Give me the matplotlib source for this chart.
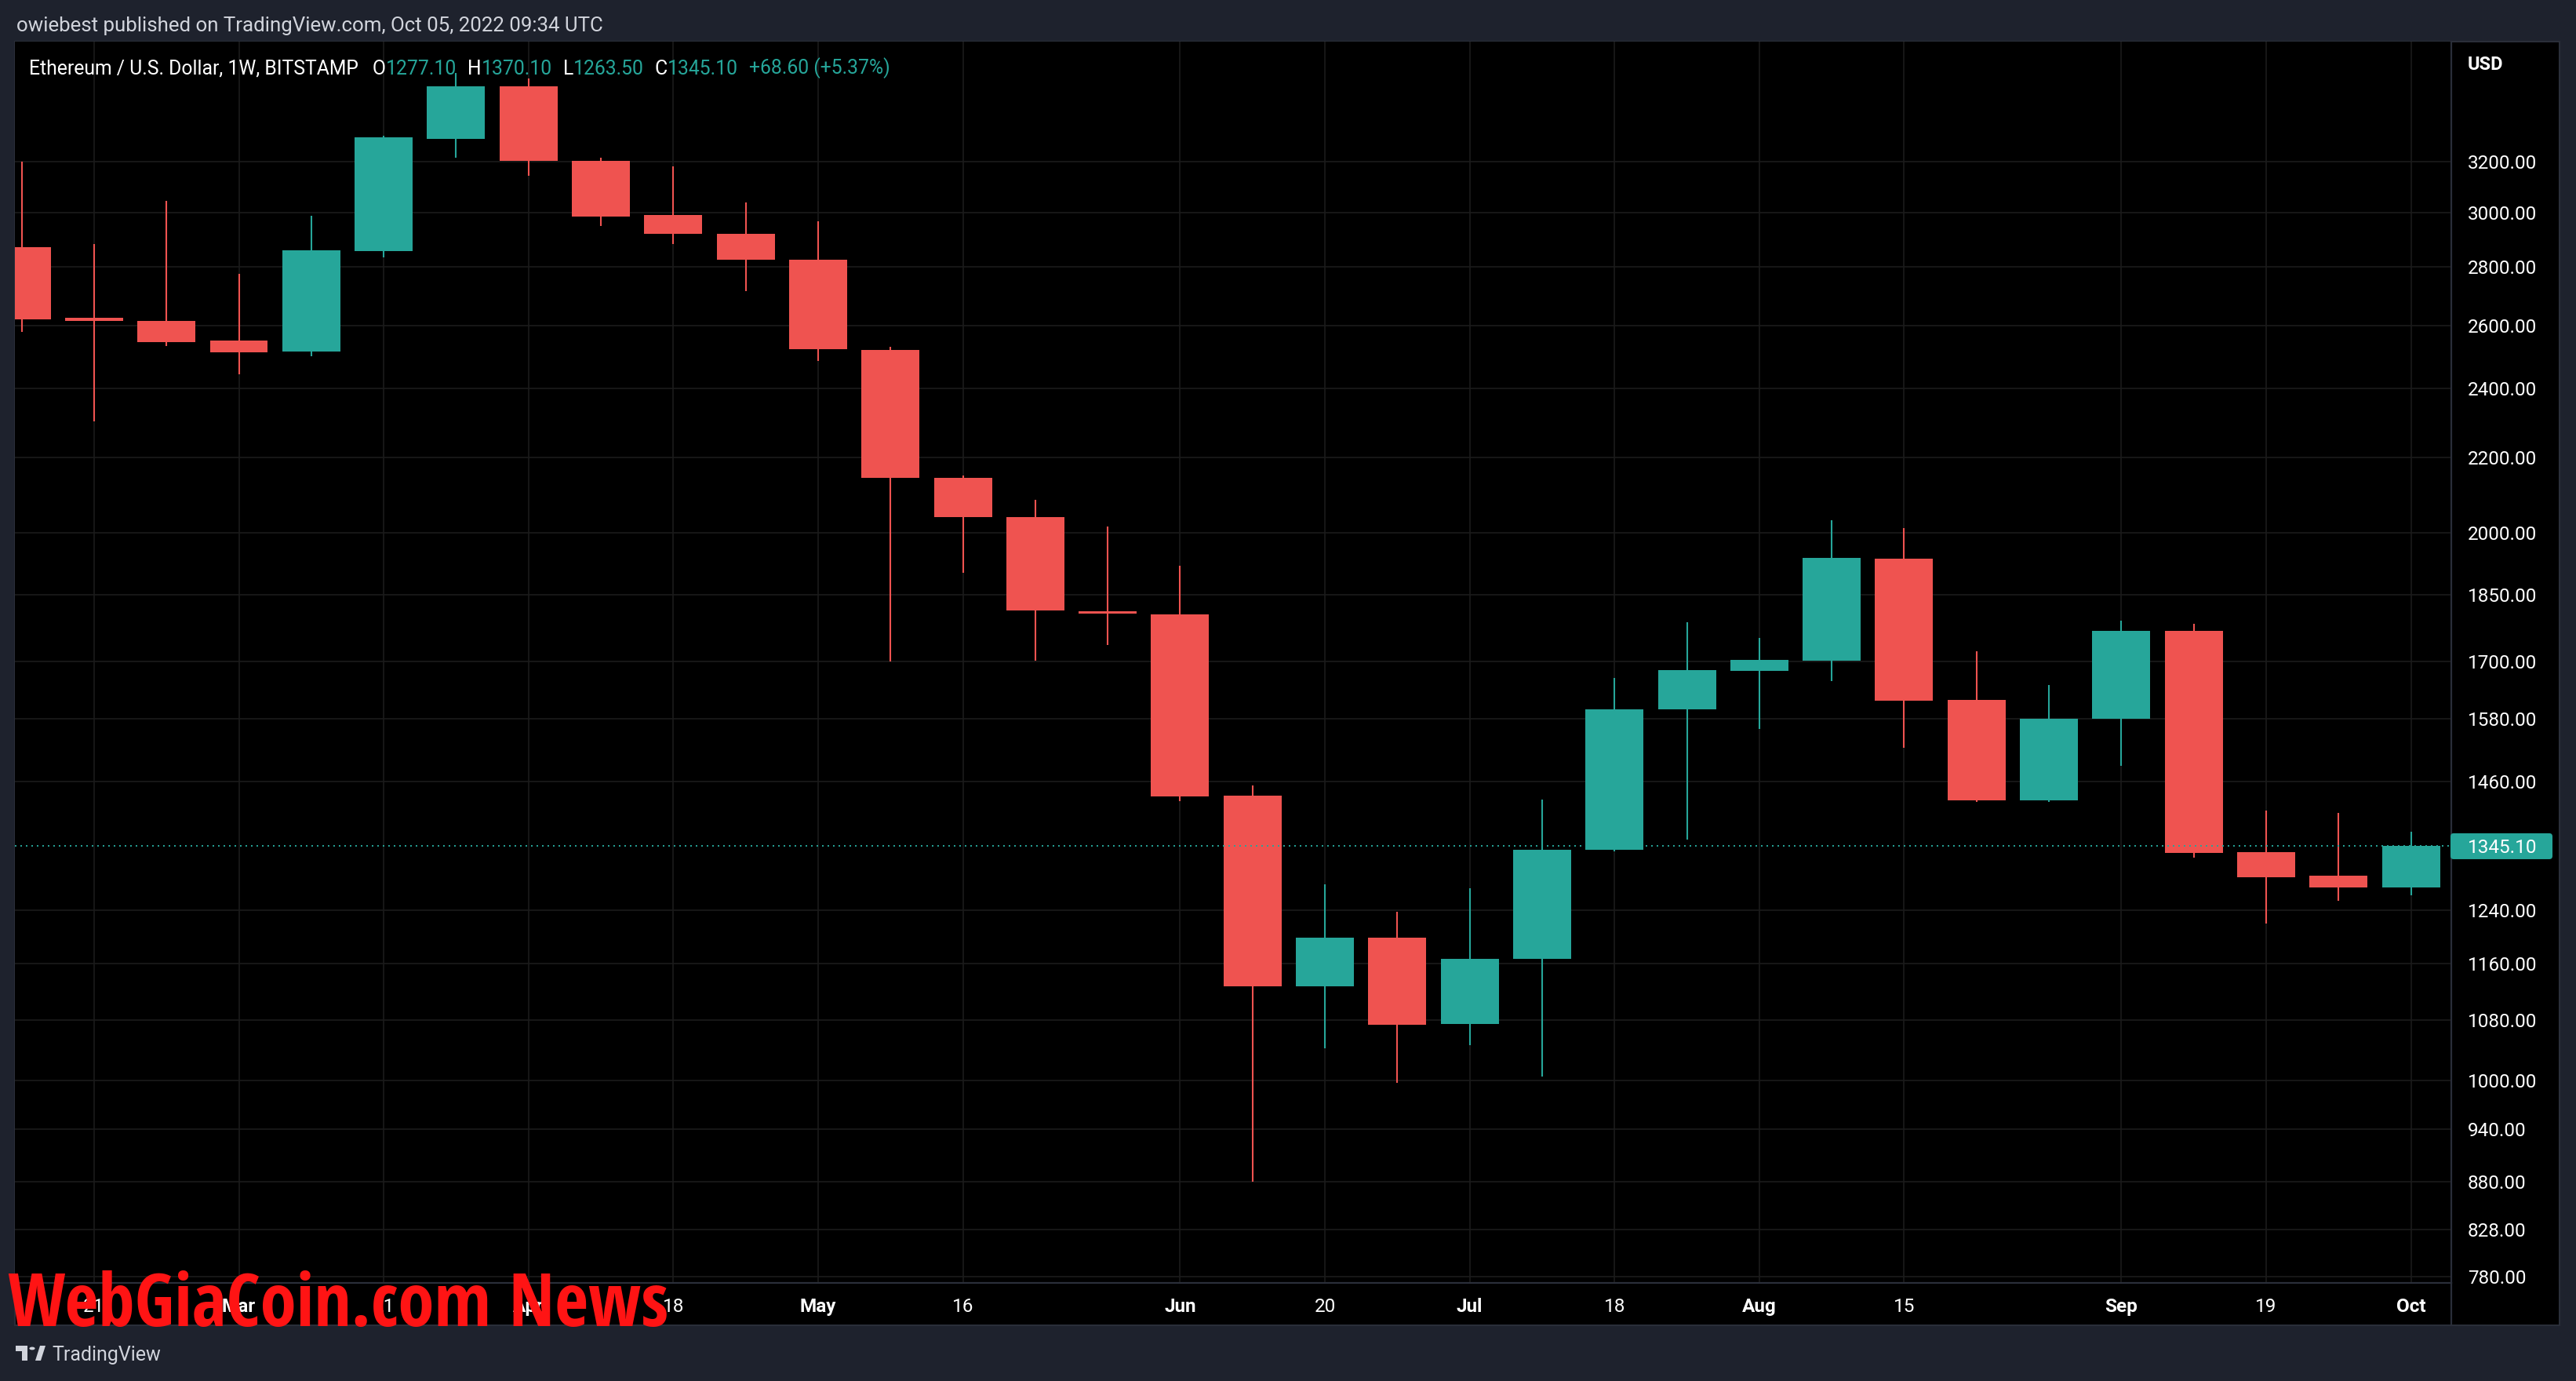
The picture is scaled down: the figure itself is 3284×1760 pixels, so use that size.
import matplotlib
matplotlib.use("Agg")
import matplotlib.pyplot as plt
import matplotlib.dates as mdates
from matplotlib import font_manager as fm
from matplotlib.patches import Rectangle, FancyBboxPatch, Polygon, Circle
from matplotlib.lines import Line2D
from matplotlib.ticker import NullLocator, NullFormatter
from matplotlib.transforms import IdentityTransform
import numpy as np
import pandas as pd

W, H = 3284, 1760

# weekly ETH/USD candles (BITSTAMP)
WEEKS = ["2022-02-14", "2022-02-21", "2022-02-28", "2022-03-07", "2022-03-14",
         "2022-03-21", "2022-03-28", "2022-04-04", "2022-04-11", "2022-04-18",
         "2022-04-25", "2022-05-02", "2022-05-09", "2022-05-16", "2022-05-23",
         "2022-05-30", "2022-06-06", "2022-06-13", "2022-06-20", "2022-06-27",
         "2022-07-04", "2022-07-11", "2022-07-18", "2022-07-25", "2022-08-01",
         "2022-08-08", "2022-08-15", "2022-08-22", "2022-08-29", "2022-09-05",
         "2022-09-12", "2022-09-19", "2022-09-26", "2022-10-03"]
OPEN = [2872, 2625, 2616, 2551, 2516, 2857, 3294, 3520, 3202, 2990,
        2919, 2826, 2521, 2144, 2040, 1811, 1804, 1434, 1127, 1198,
        1074, 1166, 1339, 1599, 1679, 1701, 1935, 1619, 1426, 1580,
        1767, 1335, 1296, 1277.10]
HIGH = [3200, 2883, 3045, 2775, 2987, 3305, 3580, 3554, 3215, 3180,
        3038, 2966, 2530, 2150, 2085, 2016, 1919, 1453, 1282, 1238,
        1276, 1427, 1664, 1786, 1751, 2033, 2012, 1722, 1649, 1790,
        1782, 1407, 1403, 1370.10]
LOW = [2578, 2302, 2534, 2444, 2501, 2835, 3215, 3142, 2949, 2883,
       2716, 2487, 1700, 1902, 1701, 1735, 1424, 880, 1042, 997,
       1046, 1005, 1337, 1357, 1561, 1657, 1524, 1423, 1423, 1489,
       1326, 1220, 1255, 1263.50]
CLOSE = [2620, 2616, 2546, 2513, 2860, 3300, 3520, 3202, 2985, 2921,
         2825, 2523, 2144, 2040, 1812, 1806, 1432, 1127, 1198, 1073,
         1166, 1339, 1599, 1681, 1702, 1937, 1617, 1425, 1581, 1767,
         1334, 1293, 1277, 1345.10]
CHANGE = 68.60
CHANGE_PCT = 5.37

PRICE_TICKS = [3200, 3000, 2800, 2600, 2400, 2200, 2000, 1850, 1700, 1580,
               1460, 1240, 1160, 1080, 1000, 940, 880, 828, 780]
TIME_TICKS = ["2022-02-21", "2022-03-07", "2022-03-21", "2022-04-04", "2022-04-18",
              "2022-05-02", "2022-05-16", "2022-06-06", "2022-06-20", "2022-07-04",
              "2022-07-18", "2022-08-01", "2022-08-15", "2022-09-05", "2022-09-19",
              "2022-10-03"]
TIME_LABELS = ["21", "Mar", "21", "Apr", "18", "May", "16", "Jun", "20", "Jul",
               "18", "Aug", "15", "Sep", "19", "Oct"]
LAST_PRICE = 1345.10

UP = "#26a69a"
DOWN = "#ef5350"
NAVY = "#1e222d"
BORDER = "#2a2e39"
GRID = "#1b1b1b"

plt.rcParams["font.family"] = ["Roboto", "DejaVu Sans"]


def fx(x):
    return x / W


def fy(y):
    return 1 - y / H


def narrow_bold():
    """Find a condensed bold face for the watermark, if any is installed."""
    def bold(e):
        w = e.weight if isinstance(e.weight, int) else fm.weight_dict.get(e.weight, 400)
        return w >= 600

    entries = [e for e in fm.fontManager.ttflist if bold(e) and e.style == "normal"]
    prefs = ["Liberation Sans Narrow", "Noto Sans SemiCondensed", "Noto Sans Condensed",
             "DejaVu Sans Condensed", "Open Sans Condensed", "Open Sans SemiCondensed"]
    for name in prefs:
        for e in entries:
            if e.name == name:
                return fm.FontProperties(fname=e.fname)
    for e in entries:
        if "condensed" in str(e.stretch) or "Condensed" in e.name or "Narrow" in e.name:
            return fm.FontProperties(fname=e.fname)
    return fm.FontProperties(family="DejaVu Sans", weight="bold")


fig = plt.figure(figsize=(W / 100, H / 100), dpi=100, facecolor=NAVY)

# black chart panel
fig.add_artist(Rectangle((fx(19), fy(1689)), fx(3263 - 19), (1689 - 53) / H,
                         transform=fig.transFigure, facecolor="black",
                         edgecolor=BORDER, lw=1.5, zorder=-1))

ax = fig.add_axes([fx(19), fy(1635), fx(3125 - 19), (1635 - 53) / H])
ax.set_facecolor("black")

x = mdates.date2num(pd.to_datetime(WEEKS))
o, h, l, c = map(np.array, (OPEN, HIGH, LOW, CLOSE))
cols = np.where(c >= o, UP, DOWN)

ax.vlines(x, l, h, colors=cols, lw=1.5, zorder=3)
ax.bar(x, np.abs(c - o), bottom=np.minimum(o, c), width=5.61, color=cols,
       lw=0, zorder=4)

ax.axhline(LAST_PRICE, color=UP, lw=1.4, ls=(0, (1, 2.6)), zorder=5)

ax.set_yscale("log")
ax.set_ylim(774, 3724)
ax.set_xlim(x[0] - 0.652, x[0] + 234.9)

ax.yaxis.tick_right()
ax.set_yticks(PRICE_TICKS)
ax.set_yticklabels([f"{v:.2f}" for v in PRICE_TICKS])
ax.yaxis.set_minor_locator(NullLocator())
ax.yaxis.set_minor_formatter(NullFormatter())
ax.tick_params(axis="y", length=0, pad=15, labelsize=17.5, labelcolor="white")

ax.set_xticks(mdates.date2num(pd.to_datetime(TIME_TICKS)))
ax.set_xticklabels(TIME_LABELS)
ax.tick_params(axis="x", length=0, pad=13.5, labelsize=17.5, labelcolor="white")
for lab in ax.get_xticklabels():
    if lab.get_text().isalpha():
        lab.set_fontweight("bold")

ax.grid(True, color=GRID, lw=1.2)
ax.set_axisbelow(True)
for side in ("top", "left"):
    ax.spines[side].set_visible(False)
for side in ("right", "bottom"):
    ax.spines[side].set_color(BORDER)
    ax.spines[side].set_linewidth(1.6)

# hide the part of the lowest price label that falls into the time scale
fig.add_artist(Rectangle((fx(3126), fy(1688)), fx(3262 - 3126), (1688 - 1636) / H,
                         transform=fig.transFigure, facecolor="black", lw=0, zorder=1))
fig.add_artist(Line2D([fx(3125), fx(3125)], [fy(1635), fy(1689)],
                      transform=fig.transFigure, color=BORDER, lw=1.6, zorder=2))

# last price tag on the price scale
y_last = ax.transData.transform((x[0], LAST_PRICE))[1]
fig.add_artist(FancyBboxPatch((3124, y_last - 16.5), 130, 33,
                              boxstyle="round,pad=0,rounding_size=4",
                              transform=IdentityTransform(), facecolor=UP,
                              lw=0, zorder=3))
fig.text(fx(3146), y_last / H, f"{LAST_PRICE:.2f}", color="white", fontsize=17.5,
         va="center_baseline", ha="left", zorder=4)

fig.text(fx(3146), fy(89), "USD", color="white", fontsize=17, fontweight="bold",
         va="baseline", ha="left")

# header
fig.text(fx(21), fy(40), "owiebest published on TradingView.com, Oct 05, 2022 09:34 UTC",
         color="#d1d4dc", fontsize=18.6, va="baseline", ha="left")

# legend line with OHLC of the last bar: (text, colour, gap before it in points)
parts = [("O", "white", 13.5), (f"{OPEN[-1]:.2f}", UP, 0),
         ("H", "white", 10), (f"{HIGH[-1]:.2f}", UP, 0),
         ("L", "white", 10), (f"{LOW[-1]:.2f}", UP, 0),
         ("C", "white", 10), (f"{CLOSE[-1]:.2f}", UP, 0),
         (f"+{CHANGE:.2f} (+{CHANGE_PCT:.2f}%)", UP, 10)]
prev = fig.text(fx(36.5), fy(95), "Ethereum / U.S. Dollar, 1W, BITSTAMP", color="white",
                fontsize=17.8, va="baseline", ha="left", zorder=6)
for txt, col, gap in parts:
    prev = ax.annotate(txt, xy=(1, 0), xycoords=prev, xytext=(gap, 0),
                       textcoords="offset points", va="bottom", ha="left",
                       color=col, fontsize=17.8, annotation_clip=False, zorder=6)

# footer with TradingView mark
LOGO = "#d1d4dc"
fig.add_artist(Polygon([(fx(20), fy(1715)), (fx(35), fy(1715)), (fx(35), fy(1734)),
                        (fx(28), fy(1734)), (fx(28), fy(1722)), (fx(20), fy(1722))],
                       closed=True, transform=fig.transFigure, facecolor=LOGO, lw=0))
fig.add_artist(Polygon([(fx(45), fy(1734)), (fx(52), fy(1734)), (fx(58), fy(1715)),
                        (fx(51), fy(1715))],
                       closed=True, transform=fig.transFigure, facecolor=LOGO, lw=0))
fig.add_artist(Circle((fx(41), fy(1718.5)), 3.6 / W, transform=fig.transFigure,
                      facecolor=LOGO, lw=0))
fig.text(fx(66), fy(1734), "TradingView", color=LOGO, fontsize=18,
         va="baseline", ha="left")

# red watermark over the time scale, fitted to the width it takes in the original
wm_font = narrow_bold()
wm = fig.text(fx(10), fy(1690), "WebGiaCoin.com News", color="#ff1414",
              fontproperties=wm_font, va="baseline", ha="left", zorder=10)
wm.set_fontsize(60)
renderer = fig.canvas.get_renderer()
wm_width = wm.get_window_extent(renderer).width
wm.set_fontsize(min(70, 60 * 843 / wm_width))

fig.savefig("out.png", dpi=100, facecolor=NAVY)
